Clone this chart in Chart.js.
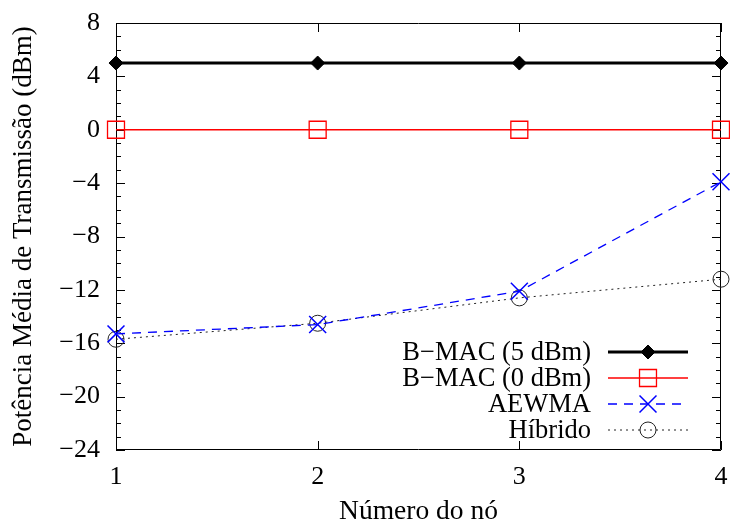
<!DOCTYPE html>
<html>
<head>
<meta charset="utf-8">
<script src="https://cdn.jsdelivr.net/npm/chart.js@4"></script>
<style>
  html, body { margin: 0; padding: 0; background: #fff; }
  #wrap { width: 730px; height: 526px; }
</style>
</head>
<body>
<div id="wrap"><canvas id="chart"></canvas></div>
<script>
// dados
const nos = [1, 2, 3, 4];
const bmac5 = [5, 5, 5, 5];
const bmac0 = [0, 0, 0, 0];
const aewma = [-15.3, -14.6, -12.1, -3.9];
const hibrido = [-15.7, -14.5, -12.6, -11.2];
const yTicks = [-24, -20, -16, -12, -8, -4, 0, 4, 8];

const FONT = 'Liberation Serif, Times New Roman, serif';

function pts(vals) {
    return vals.map((v, i) => ({ x: nos[i], y: v }));
}

const series = [
    { label: 'B\u2212MAC (5 dBm)', data: pts(bmac5), borderColor: '#000', backgroundColor: '#000',
      borderWidth: 3, pointStyle: 'rectRot', pointRadius: 7, pointBorderWidth: 1, borderDash: [] },
    { label: 'B\u2212MAC (0 dBm)', data: pts(bmac0), borderColor: '#ff0000', backgroundColor: 'rgba(0,0,0,0)',
      borderWidth: 1.3, pointStyle: 'rect', pointRadius: 12, pointBorderWidth: 1.3, borderDash: [] },
    { label: 'AEWMA', data: pts(aewma), borderColor: '#0000ff', backgroundColor: 'rgba(0,0,0,0)',
      borderWidth: 1.3, pointStyle: 'crossRot', pointRadius: 12, pointBorderWidth: 1.5, borderDash: [9, 7] },
    { label: 'H\u00edbrido', data: pts(hibrido), borderColor: '#222', backgroundColor: 'rgba(0,0,0,0)',
      borderWidth: 1, pointStyle: 'circle', pointRadius: 8, pointBorderWidth: 1, borderDash: [2, 4] }
];

// bordas e marcas de escala para dentro (estilo gnuplot)
const frame = {
    id: 'frame',
    beforeDatasetsDraw(chart) {
        const { ctx, chartArea: a, scales } = chart;
        ctx.save();
        ctx.strokeStyle = '#000';
        ctx.lineWidth = 1;
        ctx.beginPath();
        ctx.rect(a.left + 0.5, a.top + 0.5, a.right - a.left - 1, a.bottom - a.top - 1);
        const y = scales.y;
        for (let v = y.min; v <= y.max; v++) {
            const py = Math.round(y.getPixelForValue(v)) + 0.5;
            const len = (v % 4 === 0) ? 9 : 5;
            ctx.moveTo(a.left, py); ctx.lineTo(a.left + len, py);
            ctx.moveTo(a.right, py); ctx.lineTo(a.right - len, py);
        }
        const x = scales.x;
        nos.forEach(n => {
            const px = Math.round(x.getPixelForValue(n)) + 0.5;
            ctx.moveTo(px, a.bottom); ctx.lineTo(px, a.bottom - 9);
            ctx.moveTo(px, a.top); ctx.lineTo(px, a.top + 9);
        });
        ctx.stroke();
        ctx.restore();
    }
};

// legenda dentro do gráfico, texto à esquerda da amostra
const legenda = {
    id: 'legenda',
    afterDraw(chart) {
        const { ctx } = chart;
        const rows = [352, 378, 404, 430];
        const textRight = 591, x0 = 608, x1 = 688, xm = 648;
        ctx.save();
        series.forEach((s, i) => {
            const y = rows[i];
            ctx.font = '26.5px ' + FONT;
            ctx.fillStyle = '#000';
            ctx.textAlign = 'right';
            ctx.textBaseline = 'middle';
            ctx.fillText(s.label, textRight, y + 1);
            ctx.strokeStyle = s.borderColor;
            ctx.lineWidth = s.borderWidth;
            ctx.setLineDash(s.borderDash);
            ctx.beginPath();
            ctx.moveTo(x0, y); ctx.lineTo(x1, y);
            ctx.stroke();
            ctx.setLineDash([]);
            ctx.lineWidth = s.pointBorderWidth;
            ctx.fillStyle = s.backgroundColor;
            ctx.strokeStyle = s.borderColor;
            Chart.helpers.drawPoint(ctx, {
                pointStyle: s.pointStyle, radius: s.pointRadius, rotation: 0,
                borderWidth: s.pointBorderWidth
            }, xm, y);
        });
        ctx.restore();
    }
};

new Chart(document.getElementById('chart'), {
    type: 'line',
    data: {
        datasets: series.map(s => Object.assign({}, s, {
            pointBackgroundColor: s.backgroundColor,
            pointBorderColor: s.borderColor,
            fill: false,
            tension: 0,
            clip: false
        }))
    },
    options: {
        responsive: true,
        maintainAspectRatio: false,
        animation: false,
        layout: { autoPadding: false, padding: { top: 23, right: 9, left: 0, bottom: 0 } },
        plugins: { legend: { display: false }, tooltip: { enabled: false } },
        scales: {
            x: {
                type: 'linear',
                min: 1, max: 4,
                afterFit(scale) {
                    scale.height = 76;
                    scale.paddingLeft = 0; scale.paddingRight = 0;
                },
                afterBuildTicks(scale) { scale.ticks = nos.map(v => ({ value: v })); },
                grid: { display: false, drawTicks: false },
                border: { display: false },
                ticks: { color: '#000', padding: 12, font: { family: FONT, size: 26 } },
                title: { display: true, text: 'N\u00famero do n\u00f3', color: '#000',
                         padding: { top: 0, bottom: 0 }, font: { family: FONT, size: 27.5, lineHeight: 1 } }
            },
            y: {
                min: -24, max: 8,
                afterFit(scale) {
                    scale.width = 116;
                    scale.paddingTop = 0; scale.paddingBottom = 0;
                },
                afterBuildTicks(scale) { scale.ticks = yTicks.map(v => ({ value: v })); },
                grid: { display: false, drawTicks: false },
                border: { display: false },
                ticks: { color: '#000', padding: 16, font: { family: FONT, size: 26 },
                         callback: v => String(v).replace('-', '\u2212') },
                title: { display: true, text: 'Pot\u00eancia M\u00e9dia de Transmiss\u00e3o (dBm)', color: '#000',
                         padding: { top: 10, bottom: 0 }, font: { family: FONT, size: 27, lineHeight: 1 } }
            }
        }
    },
    plugins: [frame, legenda]
});
</script>
</body>
</html>
